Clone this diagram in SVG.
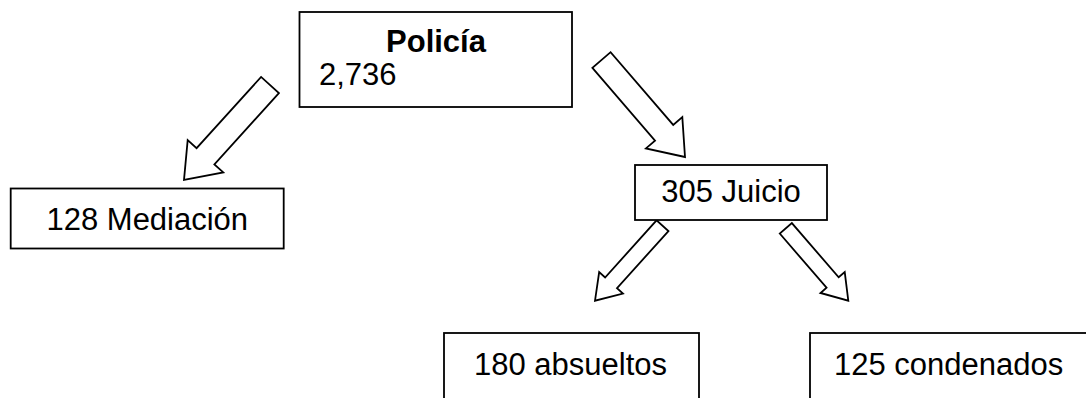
<svg xmlns="http://www.w3.org/2000/svg" width="1086" height="398" viewBox="0 0 1086 398">
<style>
.box{fill:#fff;stroke:#000;stroke-width:1.8}
.arr{fill:#fff;stroke:#000;stroke-width:1.8;stroke-linejoin:miter}
.t{font-family:"Liberation Sans",Arial,sans-serif;font-size:31px;fill:#000}
.b{font-weight:bold}
</style>
<rect width="1086" height="398" fill="#fff"/>
<g id="connectors">
<polygon class="arr" points="278.9,93.06 214.38,164.33 223.28,172.38 184,180 187.68,140.16 196.58,148.21 261.1,76.94"/>
<polygon class="arr" points="592.41,67.83 655.03,140.58 645.93,148.41 685,157 682.31,117.09 673.21,124.92 610.59,52.17"/>
<polygon class="arr" points="668.45,231.05 617.01,288.21 622.95,293.56 595,300.7 599.17,272.16 605.11,277.51 656.55,220.35"/>
<polygon class="arr" points="779.74,233.53 826.56,287.76 820.51,292.98 848.3,300.7 844.73,272.08 838.68,277.3 791.86,223.07"/>
</g>
<g id="policia">
<rect class="box" x="299.5" y="12" width="272.5" height="95"/>
<text class="t b" x="436" y="52" text-anchor="middle">Policía</text>
<text class="t" x="319" y="85">2,736</text>
</g>
<g id="mediacion">
<rect class="box" x="10.7" y="188.5" width="273" height="60"/>
<text class="t" x="147.3" y="230" text-anchor="middle">128 Mediación</text>
</g>
<g id="juicio">
<rect class="box" x="635" y="165" width="192" height="55"/>
<text class="t" x="731" y="201.5" text-anchor="middle">305 Juicio</text>
</g>
<g id="absueltos">
<rect class="box" x="444" y="333" width="255" height="80"/>
<text class="t" x="474" y="375">180 absueltos</text>
</g>
<g id="condenados">
<rect class="box" x="810" y="333" width="300" height="80"/>
<text class="t" x="834" y="375">125 condenados</text>
</g>
</svg>
